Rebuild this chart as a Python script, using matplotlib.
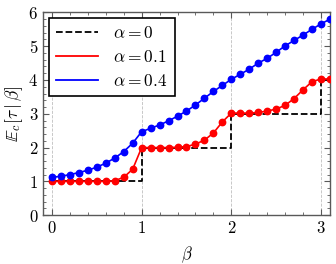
import matplotlib
matplotlib.use("Agg")
import matplotlib.pyplot as plt
from matplotlib.lines import Line2D
from matplotlib.ticker import MultipleLocator

beta = [0.0, 0.1, 0.2, 0.3, 0.4, 0.5, 0.6, 0.7, 0.8, 0.9, 1.0,
        1.1, 1.2, 1.3, 1.4, 1.5, 1.6, 1.7, 1.8, 1.9, 2.0,
        2.1, 2.2, 2.3, 2.4, 2.5, 2.6, 2.7, 2.8, 2.9, 3.0, 3.1]

tau_a01 = [1.00, 1.00, 1.00, 1.00, 1.00, 1.00, 1.00, 1.02, 1.12, 1.36, 2.00,
           2.00, 2.00, 2.00, 2.01, 2.03, 2.10, 2.22, 2.43, 2.76, 3.02,
           3.02, 3.02, 3.04, 3.08, 3.14, 3.25, 3.45, 3.71, 3.95, 4.03, 4.03]

tau_a04 = [1.12, 1.15, 1.20, 1.26, 1.33, 1.42, 1.54, 1.69, 1.88, 2.13, 2.47,
           2.57, 2.67, 2.79, 2.93, 3.08, 3.26, 3.46, 3.66, 3.84, 4.02,
           4.17, 4.32, 4.50, 4.64, 4.82, 5.01, 5.17, 5.33, 5.50, 5.66, 5.80]

step_x = [0.0, 1.0, 2.0, 3.0, 3.1]
step_y = [1, 2, 3, 4, 4]

plt.rcParams.update({
    "font.family": "serif",
    "font.serif": ["cmr10", "DejaVu Serif"],
    "mathtext.fontset": "cm",
    "axes.formatter.use_mathtext": True,
    "font.size": 12,
})

fig = plt.figure(figsize=(3.36, 2.64), dpi=100)
ax = fig.add_axes([0.128, 0.185, 0.854, 0.768])

ax.plot(step_x, step_y, color="black", ls="--", lw=1.3, drawstyle="steps-post", zorder=2)
ax.plot(beta, tau_a01, color="#ff0000", lw=1.2, marker="o", ms=4.6, zorder=3)
ax.plot(beta, tau_a04, color="#0000ff", lw=1.2, marker="o", ms=4.6, zorder=3)

ax.set_xlim(-0.1, 3.1)
ax.set_ylim(0, 6)
ax.xaxis.set_major_locator(MultipleLocator(1))
ax.xaxis.set_minor_locator(MultipleLocator(0.2))
ax.yaxis.set_major_locator(MultipleLocator(1))
ax.yaxis.set_minor_locator(MultipleLocator(0.2))
ax.tick_params(which="both", direction="in", top=True, right=True, color="0.35")
ax.tick_params(which="major", length=4, width=0.8, labelsize=12)
ax.tick_params(which="minor", length=2, width=0.6)
for s in ax.spines.values():
    s.set_color("0.35")
    s.set_linewidth(1.0)
ax.grid(axis="x", which="major", color="0.75", ls="--", lw=0.6)
ax.set_axisbelow(True)

ax.set_xlabel(r"$\beta$", labelpad=6)
ax.set_ylabel(r"$\mathbb{E}_c[\tau\mid\beta]$", labelpad=2, fontsize=12.5)

handles = [
    Line2D([], [], color="black", ls="--", lw=1.3),
    Line2D([], [], color="#ff0000", lw=1.3),
    Line2D([], [], color="#0000ff", lw=1.3),
]
labels = [r"$\alpha=0$", r"$\alpha=0.1$", r"$\alpha=0.4$"]
leg = ax.legend(handles, labels, loc="upper left", fancybox=False, framealpha=1,
                edgecolor="black", handlelength=2.4, borderaxespad=0.35,
                labelspacing=0.45, handletextpad=0.9, fontsize=12.5)
leg.get_frame().set_linewidth(1.2)

fig.savefig("out.png", dpi=100)
